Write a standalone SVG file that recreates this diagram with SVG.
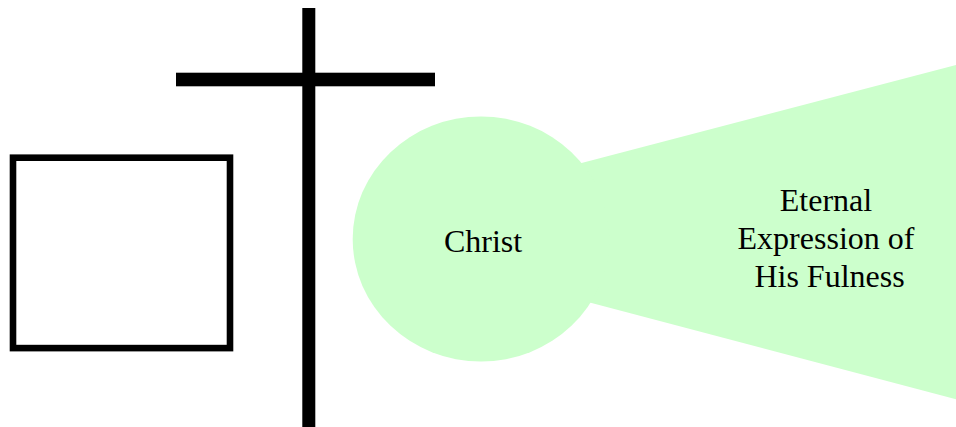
<svg xmlns="http://www.w3.org/2000/svg" width="956" height="427" viewBox="0 0 956 427">
<style>
text{font-family:'Times New Roman','Liberation Serif','DejaVu Serif',serif;font-size:32px;fill:#000;text-anchor:middle}
.green{fill:#ccffcc;stroke:none}
</style>
<rect width="956" height="427" fill="#fff"/>
<g id="box"><rect x="13" y="157.7" width="217" height="190.4" fill="#fff" stroke="#000" stroke-width="6.6"/></g>
<g id="cross">
<rect x="302.3" y="8" width="13" height="419" fill="#000"/>
<rect x="176" y="72.7" width="259" height="13.6" fill="#000"/>
</g>
<g id="expression">
<polygon class="green" points="530,176.6 956,65 956,399.3 530,286.8"/>
<text x="826" y="211">Eternal</text>
<text x="826" y="248.5">Expression of</text>
<text x="829.5" y="286.5">His Fulness</text>
</g>
<g id="christ">
<ellipse class="green" cx="481" cy="239" rx="128.3" ry="122.5"/>
<text x="483" y="251.7">Christ</text>
</g>
<g id="connectors"/>
</svg>
